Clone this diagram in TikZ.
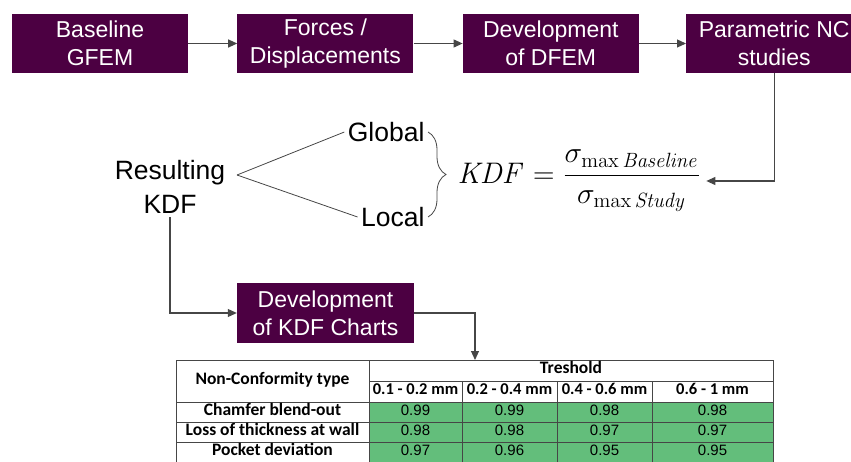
\documentclass[tikz,border=0pt]{standalone}
\usepackage[no-math]{fontspec}
\setmainfont{Liberation Sans}
\newfontfamily\tablefont{Carlito}
\usepackage{amsmath}
\usetikzlibrary{positioning}
\usetikzlibrary{arrows.meta}
\usetikzlibrary{decorations.pathreplacing}

\definecolor{boxpurple}{RGB}{76,0,66}
\definecolor{linegray}{RGB}{70,70,70}
\definecolor{cellgreen}{RGB}{99,190,123}

\begin{document}
\begin{tikzpicture}[x=1pt, y=-1pt,
	procbox/.style={fill=boxpurple, text=white, minimum width=176pt, minimum height=59pt, align=center, font=\fontsize{23}{28}\selectfont},
	lbl/.style={align=center, font=\fontsize{26.5}{34}\selectfont},
	flow/.style={draw=linegray, line width=1.1pt, -{Triangle[length=9pt, width=8pt]}},
	branch/.style={draw=linegray, line width=0.8pt},
	grid/.style={draw=linegray, line width=0.8pt},
	cell/.style={inner sep=0pt, text height=1.5ex, text depth=0.25ex, font=\fontsize{15}{18}\selectfont},
	head/.style={cell, font=\tablefont\bfseries\fontsize{16.5}{18}\selectfont},
	rowhead/.style={cell, font=\tablefont\bfseries\fontsize{17.5}{18}\selectfont}
	]
	\path[use as bounding box] (0,0) rectangle (851,462);
	\clip (0,0) rectangle (851,462);

	% Process boxes
	\node[procbox] (baseline) at (100,43.5) {Baseline\\GFEM};
	\node[procbox, right=49pt of baseline] (forces) {Forces /\\Displacements};
	\node[procbox, right=49pt of forces] (dfem) {Development\\of DFEM};
	\node[procbox, right=47pt of dfem] (ncstudy) {Parametric NC\\studies};

	% Resulting KDF and formula
	\node[lbl] (result) at (170,187) {Resulting\\KDF};
	\node[lbl, anchor=east] (global) at (428,132) {Global};
	\node[lbl, anchor=east] (local) at (428,217) {Local};
	\node[anchor=west, scale=1.72, transform shape, inner sep=3pt, font=\LARGE] (kdf) at (452,181) {$\mathit{KDF} = \dfrac{\sigma_{\max\mathit{Baseline}}}{\sigma_{\max\mathit{Study}}}$};
	\coordinate (fork) at (237,175);

	% Charts
	\node[procbox, minimum width=177pt] (charts) at (325.5,313) {Development\\of KDF Charts};
	\coordinate (tablein) at (475,360);

	% Edges
	\draw[flow] (baseline) -- (forces);
	\draw[flow] (forces) -- (dfem);
	\draw[flow] (dfem) -- (ncstudy);
	\draw[flow] (ncstudy.south) |- (kdf.east);
	\draw[branch] (fork) -- (global.west);
	\draw[branch] (fork) -- (local.west);
	\draw[branch, decorate, decoration={brace, amplitude=18pt}] (global.east) -- (local.east);
	\draw[flow] (result.south) |- (charts.west);
	\draw[flow] (charts.east) -| (tablein);

	% Table
	\fill[cellgreen] (369,402) rectangle (773,463);
	\draw[grid] (176,360) rectangle (773,463);
	\draw[grid] (369,360) -- (369,463);
	\draw[grid] (369,381) -- (773,381);
	\foreach \y in {402,422,442}
		\draw[grid] (176,\y) -- (773,\y);
	\foreach \x in {462,557,652}
		\draw[grid] (\x,381) -- (\x,463);

	\node[rowhead] (nctype) at (272.5,381) {Non-Conformity type};
	\node[rowhead] (thresh) at (571,370.5) {Treshold};
	\foreach \x/\r [count=\i] in {415.5/0.1 - 0.2 mm, 509.5/0.2 - 0.4 mm, 604.5/0.4 - 0.6 mm, 712.5/0.6 - 1 mm}
		\node[head] (range\i) at (\x,391.5) {\r};
	\foreach \y/\name/\a/\b/\c/\d [count=\i] in {412/Chamfer blend-out/0.99/0.99/0.98/0.98, 432/Loss of thickness at wall/0.98/0.98/0.97/0.97, 452.5/Pocket deviation/0.97/0.96/0.95/0.95} {
		\node[rowhead] (row\i) at (272.5,\y) {\name};
		\node[cell] (v\i-1) at (415.5,\y) {\a};
		\node[cell] (v\i-2) at (509.5,\y) {\b};
		\node[cell] (v\i-3) at (604.5,\y) {\c};
		\node[cell] (v\i-4) at (712.5,\y) {\d};
	}
\end{tikzpicture}
\end{document}
